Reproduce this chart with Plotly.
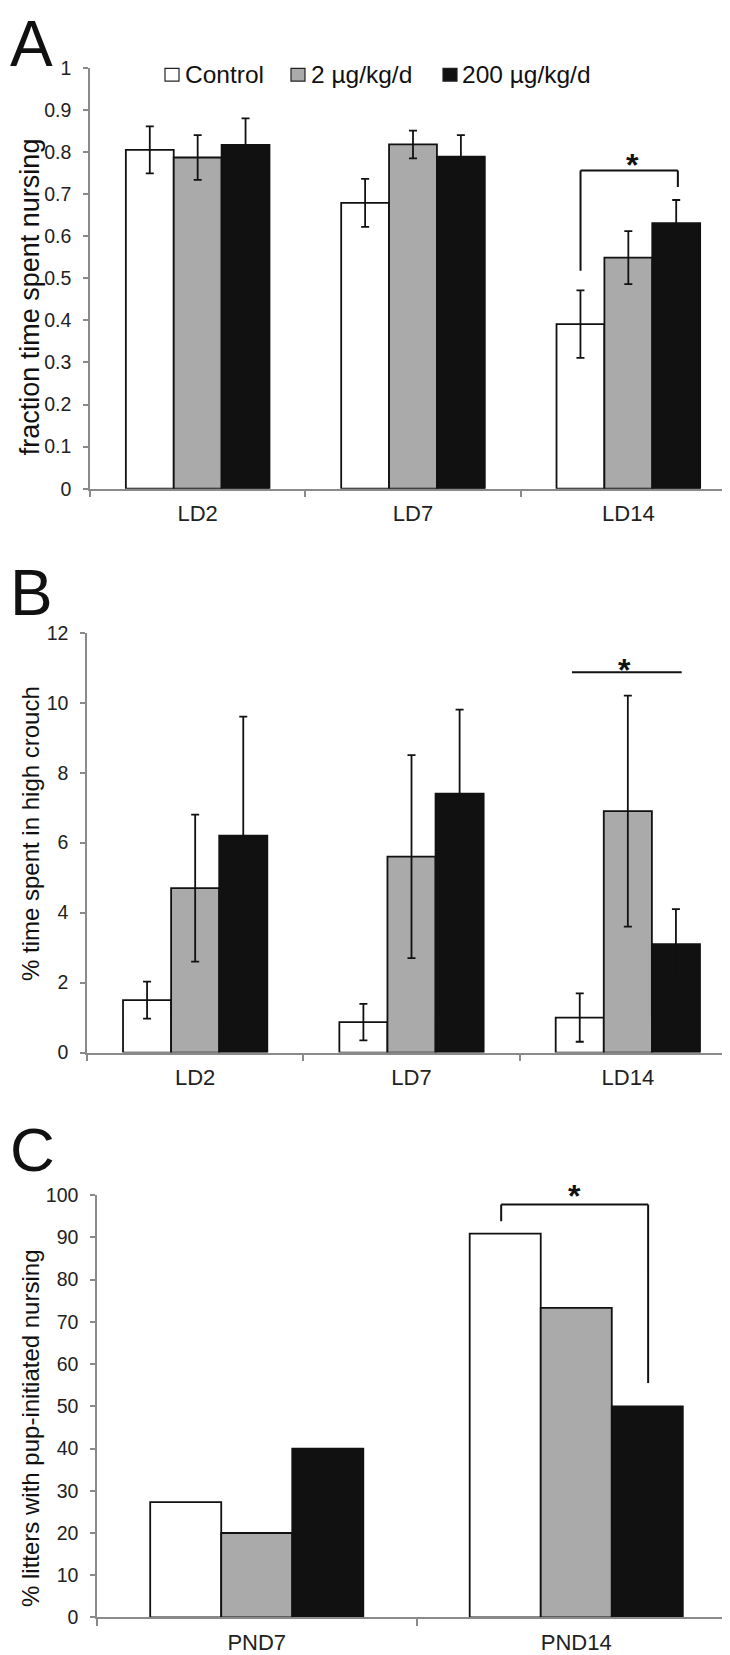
import plotly.graph_objects as go

W, H = 730, 1655
FONT = "Liberation Sans, Arial, sans-serif"

# ---------------- data ----------------
groups = ["Control", "2 µg/kg/d", "200 µg/kg/d"]
colors = ["#ffffff", "#aaaaaa", "#111111"]

a_cats = ["LD2", "LD7", "LD14"]
a_vals = [[0.805, 0.679, 0.391], [0.787, 0.818, 0.549], [0.817, 0.789, 0.631]]
a_errs = [[0.056, 0.057, 0.080], [0.053, 0.033, 0.063], [0.063, 0.051, 0.055]]
a_ticks = [0, 0.1, 0.2, 0.3, 0.4, 0.5, 0.6, 0.7, 0.8, 0.9, 1]
a_ticktext = ["0", "0.1", "0.2", "0.3", "0.4", "0.5", "0.6", "0.7", "0.8", "0.9", "1"]

b_cats = ["LD2", "LD7", "LD14"]
b_vals = [[1.5, 0.87, 1.0], [4.7, 5.6, 6.9], [6.2, 7.4, 3.1]]
b_errs = [[0.53, 0.52, 0.69], [2.1, 2.9, 3.3], [3.4, 2.4, 1.0]]
b_ticks = [0, 2, 4, 6, 8, 10, 12]

c_cats = ["PND7", "PND14"]
c_vals = [[27.3, 90.9], [20.0, 73.3], [40.0, 50.0]]
c_ticks = [0, 10, 20, 30, 40, 50, 60, 70, 80, 90, 100]

# significance markers (x = category serial number, y = data value)
a_brk_x = [2 - 0.222, 2 - 0.222, 2 + 0.23, 2 + 0.23]
a_brk_y = [0.518, 0.756, 0.756, 0.717]
a_star = (2 + 0.02, 0.787)
b_line_x = [2 - 0.258, 2 + 0.249]
b_line_y = [10.87, 10.87]
b_star = (2 - 0.015, 11.17)
c_brk_x = [1 - 0.235, 1 - 0.235, 1 + 0.225, 1 + 0.225]
c_brk_y = [93.8, 97.8, 97.8, 55.5]
c_star = (1 - 0.005, 101.6)


def px_x(p):
    return p / W


def px_y(p):
    return 1 - p / H


fig = go.Figure()

panels = [
    ("x", "y", a_cats, a_vals, a_errs),
    ("x2", "y2", b_cats, b_vals, b_errs),
    ("x3", "y3", c_cats, c_vals, None),
]

for xa, ya, cats, vals, errs in panels:
    for i, g in enumerate(groups):
        kw = {}
        if errs is not None:
            kw["error_y"] = dict(type="data", array=errs[i], visible=True,
                                 color="#111111", thickness=1.8, width=4)
        fig.add_trace(go.Bar(
            x=cats, y=vals[i], name=g, xaxis=xa, yaxis=ya,
            marker=dict(color=colors[i], line=dict(color="#111111", width=1.8)),
            offsetgroup=str(i), showlegend=False, **kw))

AX = "#8a8a8a"
TICKFONT = dict(family=FONT, size=19.5, color="#222222")
XTICKFONT = dict(family=FONT, size=22, color="#222222")


def xaxis(dom, rng, anchor):
    return dict(domain=dom, range=rng, type="category", showline=True, linecolor=AX,
                linewidth=1.5, ticks="outside", tickson="boundaries", ticklen=7,
                tickcolor=AX, tickwidth=1.5, tickfont=XTICKFONT, showgrid=False,
                zeroline=False, fixedrange=True, ticklabelstandoff=4, anchor=anchor)


def yaxis(dom, rng, tv, tt, anchor):
    return dict(domain=dom, range=rng, tickvals=tv, ticktext=tt, showline=True,
                linecolor=AX, linewidth=1.5, ticks="outside", ticklen=5, tickcolor=AX,
                tickwidth=1.5, tickfont=TICKFONT, showgrid=False, zeroline=False,
                anchor=anchor, ticklabelstandoff=8, fixedrange=True)


A_RANGE, B_RANGE, C_RANGE = [0, 1], [0, 12], [0, 100]

fig.update_layout(
    width=W, height=H, margin=dict(l=0, r=0, t=0, b=0),
    paper_bgcolor="white", plot_bgcolor="white",
    barmode="group", bargap=0.333, bargroupgap=0,
    font=dict(family=FONT, color="#111111"),
    xaxis=xaxis([px_x(82), px_x(728)], [-0.5, 2.5], "y"),
    yaxis=yaxis([px_y(476), px_y(49.5)], A_RANGE, a_ticks, a_ticktext, "x"),
    xaxis2=xaxis([px_x(79), px_x(728)], [-0.5, 2.5], "y2"),
    yaxis2=yaxis([px_y(1047.5), px_y(622)], B_RANGE, b_ticks, [str(t) for t in b_ticks], "x2"),
    xaxis3=xaxis([px_x(89), px_x(728)], [-0.5, 1.5], "y3"),
    yaxis3=yaxis([px_y(1620), px_y(1192)], C_RANGE, c_ticks, [str(t) for t in c_ticks], "x3"),
)

shapes = []
LINE = dict(color="#111111", width=2)


def add_polyline(xs, ys, xr, yr):
    for k in range(len(xs) - 1):
        shapes.append(dict(type="line", xref=xr, yref=yr, x0=xs[k], x1=xs[k + 1],
                           y0=ys[k], y1=ys[k + 1], line=LINE))


add_polyline(a_brk_x, a_brk_y, "x", "y")
add_polyline(b_line_x, b_line_y, "x2", "y2")
add_polyline(c_brk_x, c_brk_y, "x3", "y3")

ann = []
# panel letters
for letter, ytop, sz in [("A", -13, 64), ("B", 543, 64), ("C", 1109, 62)]:
    ann.append(dict(text=letter, xref="paper", yref="paper", x=px_x(0), y=px_y(ytop),
                    xanchor="left", yanchor="top", showarrow=False,
                    font=dict(family=FONT, size=sz, color="#111111")))

# y-axis titles
for txt, yc, sz in [("fraction time spent nursing", 282, 27),
                    ("% time spent in high crouch", 826, 24),
                    ("% litters with pup-initiated nursing", 1428, 24)]:
    ann.append(dict(text=txt, xref="paper", yref="paper", x=px_x(22), y=px_y(yc),
                    xanchor="center", yanchor="middle", textangle=-90, showarrow=False,
                    font=dict(family=FONT, size=sz, color="#111111")))

# asterisks (positioned relative to each axis domain so they may sit above the range)
for xr, yr, (xv, yv), rng in [("x", "y domain", a_star, A_RANGE),
                              ("x2", "y2 domain", b_star, B_RANGE),
                              ("x3", "y3 domain", c_star, C_RANGE)]:
    ann.append(dict(text="<b>*</b>", xref=xr, yref=yr, x=xv,
                    y=(yv - rng[0]) / (rng[1] - rng[0]), xanchor="center",
                    yanchor="middle", yshift=-8, showarrow=False,
                    font=dict(family=FONT, size=32, color="#111111")))

# legend (Excel-style, boxes + labels)
leg_box_x = [157, 283, 435]
leg_txt_x = [175, 301, 452]
for i, g in enumerate(groups):
    shapes.append(dict(type="rect", xref="paper", yref="paper",
                       x0=px_x(leg_box_x[i]), x1=px_x(leg_box_x[i] + 14),
                       y0=px_y(63), y1=px_y(50), fillcolor=colors[i],
                       line=dict(color="#222222", width=1.2)))
    ann.append(dict(text=g, xref="paper", yref="paper", x=px_x(leg_txt_x[i]), y=px_y(56),
                    xanchor="left", yanchor="middle", showarrow=False,
                    font=dict(family=FONT, size=24.5, color="#111111")))

fig.update_layout(annotations=ann, shapes=shapes)
fig.write_html("out.html")
